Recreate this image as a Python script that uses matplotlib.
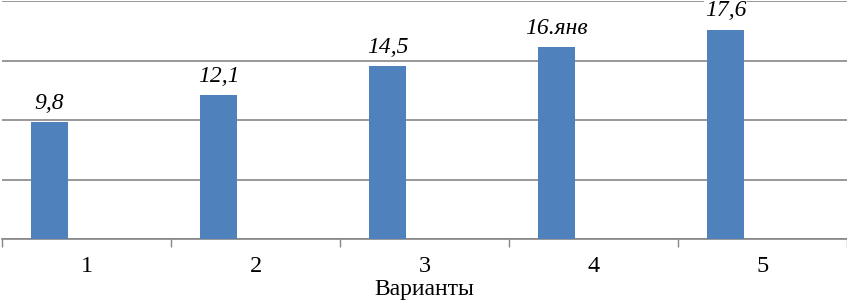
import numpy as np
import matplotlib.pyplot as plt

variants = ['1', '2', '3', '4', '5']
values = [9.8, 12.1, 14.5, 16.1, 17.6]
value_labels = ['9,8', '12,1', '14,5', '16.янв', '17,6']

plt.rcParams['font.family'] = ['Liberation Serif', 'DejaVu Serif']

fig = plt.figure(figsize=(8.47, 3.05), dpi=100)
ax = fig.add_axes([2 / 847, 66 / 305, 845 / 847, 238 / 305])

x = np.arange(len(variants))
bars = ax.bar(x - 0.219, values, width=0.222, color='#4F81BD', zorder=3)
ax.bar_label(bars, labels=value_labels, padding=6, fontsize=17, fontstyle='italic',
             bbox=dict(facecolor='white', edgecolor='none', pad=0.5), zorder=4)

ax.set_ylim(0, 20)
ax.set_xlim(-0.5, len(variants) - 0.5)
ax.set_yticks([0, 5, 10, 15, 20])
ax.yaxis.grid(True, color='#868686', linewidth=1.2, zorder=0)
ax.tick_params(axis='y', left=False, labelleft=False)

ax.set_xticks(x)
ax.set_xticklabels(variants, fontsize=17.5)
ax.set_xticks(np.arange(len(variants) + 1) - 0.5, minor=True)
ax.tick_params(axis='x', which='major', length=0, pad=12)
ax.tick_params(axis='x', which='minor', length=6, color='#868686', width=1)
ax.set_xlabel('Варианты', fontsize=17, labelpad=2)

for side in ['top', 'right', 'left']:
    ax.spines[side].set_visible(False)
ax.spines['bottom'].set_color('#868686')
ax.spines['bottom'].set_linewidth(1.2)

fig.savefig('out.png', dpi=100)
